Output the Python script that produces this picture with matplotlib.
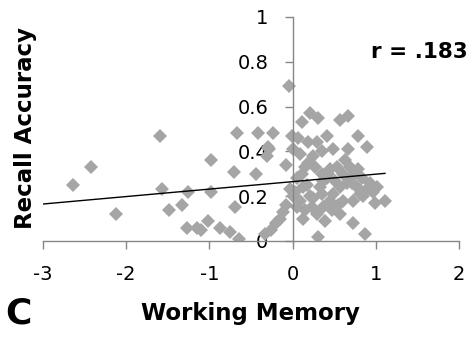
import matplotlib
matplotlib.use("Agg")
import matplotlib.pyplot as plt
import numpy as np

# working memory score vs. recall accuracy, one diamond per participant
wm = [-2.64, -2.42, -2.12, -1.59, -1.57, -1.48, -1.33, -1.26, -1.27, -1.15,
      -1.10, -1.02, -0.98, -0.98, -0.87, -0.71, -0.67, -0.69, -0.75, -0.65,
      -0.42, -0.44, -0.23, -0.28, -0.29, -0.31, -0.08, -0.04, -0.01, -0.03,
      0.01, -0.33, -0.26, -0.20, -0.15, -0.11, -0.08, 0.01, 0.11, 0.09,
      0.21, 0.31, 0.19, 0.29, 0.41, 0.25, 0.27, 0.15, 0.11, 0.49,
      0.57, 0.67, 0.67, 0.79, 0.89, 0.45, 0.53, 0.63, 0.69, 0.79,
      0.03, 0.09, 0.05, 0.15, 0.21, 0.23, 0.29, 0.37, 0.39, 0.31,
      0.45, 0.49, 0.57, 0.61, 0.57, 0.73, 0.87, 0.65, 0.77, 0.81,
      0.89, 0.97, 0.99, 1.11, 0.73, 0.33, 0.35, 0.37, 0.85, 1.01,
      0.73, 0.17, 0.41, 0.05, 0.13, 0.19, 0.35, 0.43, 0.51, 0.55,
      0.61, 0.71, 0.83, 0.93, 0.47, 0.13, 0.25, 0.07, 0.35]
recall = [0.25, 0.33, 0.12, 0.47, 0.23, 0.14, 0.16, 0.22, 0.06, 0.06,
          0.05, 0.09, 0.36, 0.22, 0.06, 0.31, 0.48, 0.15, 0.04, 0.01,
          0.48, 0.30, 0.48, 0.41, 0.42, 0.38, 0.34, 0.69, 0.47, 0.23,
          0.20, 0.03, 0.05, 0.08, 0.10, 0.13, 0.16, 0.41, 0.53, 0.39,
          0.57, 0.55, 0.44, 0.44, 0.47, 0.38, 0.33, 0.33, 0.30, 0.41,
          0.54, 0.56, 0.41, 0.47, 0.42, 0.32, 0.33, 0.36, 0.33, 0.32,
          0.22, 0.18, 0.15, 0.14, 0.20, 0.15, 0.12, 0.15, 0.09, 0.02,
          0.18, 0.21, 0.24, 0.18, 0.12, 0.08, 0.03, 0.26, 0.24, 0.21,
          0.23, 0.22, 0.17, 0.18, 0.29, 0.24, 0.30, 0.27, 0.20, 0.24,
          0.18, 0.25, 0.28, 0.28, 0.24, 0.35, 0.40, 0.30, 0.27, 0.16,
          0.30, 0.26, 0.28, 0.26, 0.14, 0.10, 0.19, 0.46, 0.21]

# linear trend line
trend_x = [-3.0, 1.11]
trend_slope = 0.0333
trend_intercept = 0.265

xticks = [-3, -2, -1, 0, 1, 2]
yticks = [0, 0.2, 0.4, 0.6, 0.8, 1]
ytick_labels = ["0", "0.2", "0.4", "0.6", "0.8", "1"]

plt.rcParams["font.family"] = ["DejaVu Sans"]
axis_grey = "#868686"

fig = plt.figure(figsize=(4.69, 3.39), dpi=100)
ax = fig.add_axes([43 / 469, 1 - 241 / 339, 416 / 469, 224 / 339])

ax.plot(wm, recall, linestyle="none", marker="D", markersize=7,
        color="#a5a5a5", markeredgewidth=0, zorder=2)

tx = np.array(trend_x)
ax.plot(tx, trend_slope * tx + trend_intercept, color="black", lw=1.0, zorder=3)

ax.set_xlim(-3, 2)
ax.set_ylim(0, 1)
ax.set_xticks(xticks)
ax.set_xticklabels([str(t) for t in xticks])
ax.set_yticks(yticks)
ax.set_yticklabels(ytick_labels)

# y axis crosses at x = 0
ax.spines["left"].set_position(("data", 0))
ax.spines["right"].set_visible(False)
ax.spines["top"].set_visible(False)
for side in ("left", "bottom"):
    ax.spines[side].set_color(axis_grey)
    ax.spines[side].set_linewidth(1.0)
ax.tick_params(axis="both", colors=axis_grey, length=5.5, width=1.0,
               labelcolor="black", labelsize=14)
ax.tick_params(axis="x", direction="out", pad=12)
ax.tick_params(axis="y", direction="out", pad=12)

fig.text(32 / 469, 1 - 128 / 339, "Recall Accuracy", rotation=90,
         rotation_mode="anchor", ha="center", va="baseline",
         fontsize=16.5, fontweight="bold")
fig.text(250 / 469, 1 - 320 / 339, "Working Memory",
         ha="center", va="baseline", fontsize=16.5, fontweight="bold")
fig.text(18.5 / 469, 1 - 323 / 339, "C",
         ha="center", va="baseline", fontsize=26, fontweight="bold")
fig.text(468 / 469, 1 - 58 / 339, "r = .183",
         ha="right", va="baseline", fontsize=15.5, fontweight="bold")

fig.savefig("out.png", dpi=100)
